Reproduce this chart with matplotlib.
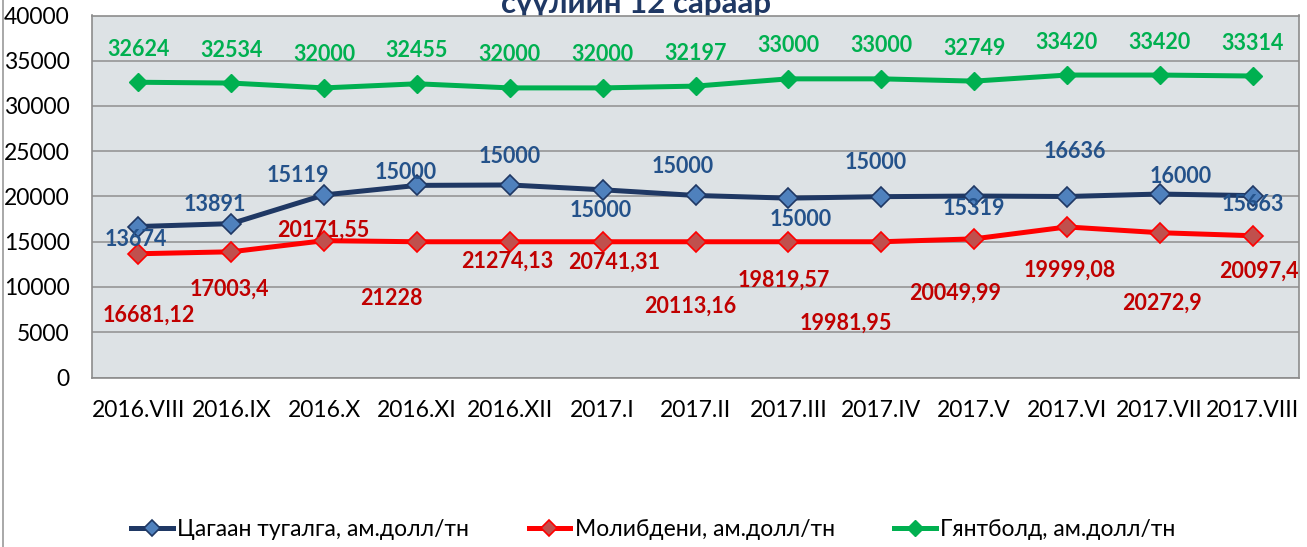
import matplotlib
matplotlib.use('Agg')
import matplotlib.pyplot as plt
from matplotlib.lines import Line2D

plt.rcParams['font.family'] = ['Lato', 'DejaVu Sans']

months = ['2016.VIII', '2016.IX', '2016.X', '2016.XI', '2016.XII', '2017.I',
          '2017.II', '2017.III', '2017.IV', '2017.V', '2017.VI', '2017.VII',
          '2017.VIII']

# цагаан тугалга (line values)
tin = [16681.12, 17003.4, 20171.55, 21228, 21274.13, 20741.31, 20113.16,
       19819.57, 19981.95, 20049.99, 19999.08, 20272.9, 20097.4]
# молибдени (line values)
moly = [13674, 13891, 15119, 15000, 15000, 15000, 15000, 15000, 15000,
        15319, 16636, 16000, 15663]
# гянтболд
tungsten = [32624, 32534, 32000, 32455, 32000, 32000, 32197, 33000, 33000,
            32749, 33420, 33420, 33314]

series_names = ['Цагаан тугалга, ам.долл/тн', 'Молибдени, ам.долл/тн',
                'Гянтболд, ам.долл/тн']

# label offsets in pixels (dx, dy), dy positive = up
blue_off = [(-3, -13), (-16, 19), (-26, 19), (-11, 13), (0, 28), (-2, -21),
            (-13, 29), (12, -21), (-6, 34), (0, -12), (8, 45), (21, 18),
            (0, -9)]
red_off = [(10, -61), (-2, -37), (-1, 10), (-26, -57), (-3, -19), (12, -20),
           (-5, -64), (-5, -38), (-35, -81), (-19, -54), (3, -43), (2, -71),
           (6, -35)]


def fmt(v):
    return ('%.2f' % v).rstrip('0').rstrip('.').replace('.', ',')


fig = plt.figure(figsize=(13.07, 5.47), dpi=100)
ax = fig.add_axes([92 / 1307, 1 - 377.5 / 547, (1299 - 92) / 1307, (377.5 - 15.5) / 547])
ax.set_facecolor('#dde2e5')

x = list(range(len(months)))

ax.plot(x, tungsten, color='#00b050', lw=3.6, marker='D', markersize=9,
        markerfacecolor='#00b050', markeredgecolor='#00b050', label=series_names[2], zorder=3)
ax.plot(x, tin, color='#1f3864', lw=3.6, marker='D', markersize=10,
        markerfacecolor='#4f81bd', markeredgecolor='#1f3864', markeredgewidth=1.2,
        label=series_names[0], zorder=4)
ax.plot(x, moly, color='#ff0000', lw=3.6, marker='D', markersize=10,
        markerfacecolor='#c0504d', markeredgecolor='#ff0000', markeredgewidth=1.2,
        label=series_names[1], zorder=3)

# data labels (as in the source, the tin/moly label texts are swapped)
for i in x:
    ax.annotate(str(tungsten[i]), (i, tungsten[i]), xytext=(0, 33),
                textcoords='offset pixels', ha='center', va='center',
                fontsize=15.5, fontweight='bold', color='#00b050', zorder=5)
    ax.annotate(str(moly[i]), (i, tin[i]), xytext=blue_off[i],
                textcoords='offset pixels', ha='center', va='center',
                fontsize=15.5, fontweight='bold', color='#24528a', zorder=5)
    ax.annotate(fmt(tin[i]), (i, moly[i]), xytext=red_off[i],
                textcoords='offset pixels', ha='center', va='center',
                fontsize=15.5, fontweight='bold', color='#c00000', zorder=5)

ax.set_xlim(-0.5, len(months) - 0.5)
ax.set_ylim(0, 40000)
ax.set_yticks(range(0, 40001, 5000))
ax.set_xticks(x)
ax.set_xticklabels(months)
ax.tick_params(axis='both', length=0, labelsize=16.5)
ax.tick_params(axis='y', pad=16)
ax.tick_params(axis='x', pad=16)
ax.grid(axis='y', color='#8f8f8f', lw=1.1)
ax.set_axisbelow(True)
for s in ax.spines.values():
    s.set_color('#8c8c8c')
    s.set_linewidth(1.2)

# title, partly hidden behind the plot area
fig.text(0.487, 1 - 12.5 / 547, 'сүүлийн 12 сараар', ha='center', va='baseline',
         fontsize=22.5, fontweight='bold', color='#1f3864', zorder=-1)

# outer frame line on the left
fig.add_artist(Line2D([2.5 / 1307, 2.5 / 1307], [0, 1], color='#9a9a9a', lw=1.2))

handles, labels = ax.get_legend_handles_labels()
order = [1, 2, 0]
fig.legend([handles[k] for k in order], [labels[k] for k in order],
           loc='center', bbox_to_anchor=(0.5, 1 - 530 / 547), ncol=3,
           frameon=False, fontsize=16.5, handlelength=1.8, handletextpad=0.2,
           columnspacing=2.6, markerscale=0.85)

fig.savefig('out.png', dpi=100)
